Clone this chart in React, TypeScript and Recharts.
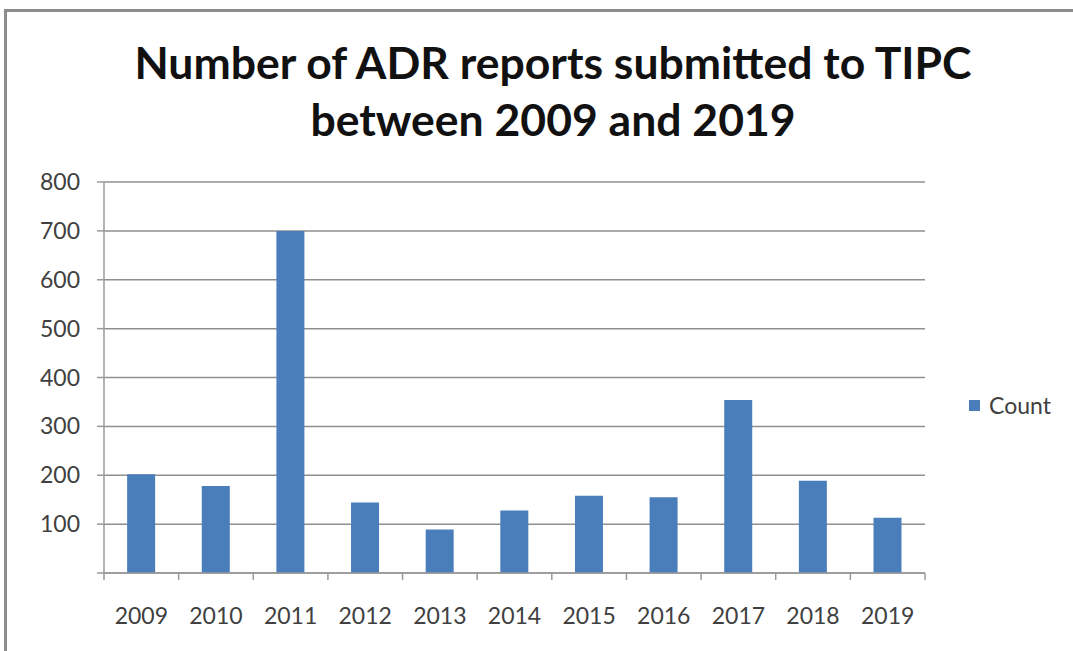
import React from "react";
import { BarChart, Bar, XAxis, YAxis, CartesianGrid } from "recharts";

const years = ["2009", "2010", "2011", "2012", "2013", "2014", "2015", "2016", "2017", "2018", "2019"];
const counts = [202, 178, 700, 144, 89, 128, 158, 155, 354, 189, 113];
const yTicks = [0, 100, 200, 300, 400, 500, 600, 700, 800];
const seriesName = "Count";
const titleLines = ["Number of ADR reports submitted to TIPC", "between 2009 and 2019"];

const data = years.map((y, i) => ({ year: y, count: counts[i] }));

const W = 1073;
const H = 651;
const M = { top: 182, right: 148, left: 0, bottom: 0 };
const YW = 104;
const plotW = W - M.left - M.right - YW;
const band = plotW / years.length;
const FONT = "Lato, 'Open Sans', sans-serif";
const BAR = "#4a7ebb";

const XTick = (props: any) => {
  const { x, y, payload, index } = props;
  const left = x - band / 2;
  return (
    <g>
      <line x1={left} x2={left} y1={y - 8} y2={y - 1} stroke="#9a9a9a" strokeWidth={1.5} />
      {index === years.length - 1 && (
        <line x1={left + band} x2={left + band} y1={y - 8} y2={y - 1} stroke="#9a9a9a" strokeWidth={1.5} />
      )}
      <text x={x} y={y + 43} textAnchor="middle" fill="#404040" fontSize={23} fontFamily={FONT}>
        {payload.value}
      </text>
    </g>
  );
};

const YTick = (props: any) => {
  const { x, y, payload } = props;
  return (
    <g>
      <line x1={x + 1} x2={x + 8} y1={y} y2={y} stroke="#9a9a9a" strokeWidth={1.5} />
      {payload.value !== 0 && (
        <text x={x - 16} y={y + 8} textAnchor="end" fill="#404040" fontSize={23} fontFamily={FONT}>
          {payload.value}
        </text>
      )}
    </g>
  );
};

export default function App() {
  return (
    <div style={{ position: "absolute", left: 0, top: 0, width: W, height: H, background: "#fff", overflow: "hidden" }}>
      <div
        style={{
          position: "absolute",
          left: 4,
          top: 9,
          width: W,
          height: H,
          borderLeft: "3px solid #8c8c8c",
          borderTop: "3px solid #8c8c8c",
          boxSizing: "border-box",
        }}
      />
      <div
        style={{
          position: "absolute",
          left: 0,
          top: 33,
          width: 1106,
          textAlign: "center",
          fontFamily: FONT,
          fontWeight: 700,
          fontSize: 44.5,
          lineHeight: "57px",
          color: "#111",
        }}
      >
        <div>{titleLines[0]}</div>
        <div>{titleLines[1]}</div>
      </div>
      <div style={{ position: "absolute", left: 0, top: 0 }}>
        <BarChart width={W} height={H} data={data} margin={M} barCategoryGap="31%">
          <CartesianGrid vertical={false} stroke="#8f8f8f" strokeWidth={1.5} />
          <XAxis
            dataKey="year"
            height={78}
            axisLine={{ stroke: "#9a9a9a", strokeWidth: 1.5 }}
            tickLine={false}
            tick={<XTick />}
            interval={0}
          />
          <YAxis
            width={YW}
            domain={[0, 800]}
            ticks={yTicks}
            axisLine={{ stroke: "#9a9a9a", strokeWidth: 1.5 }}
            tickLine={false}
            tick={<YTick />}
            interval={0}
          />
          <Bar dataKey="count" name={seriesName} fill={BAR} isAnimationActive={false} />
        </BarChart>
      </div>
      <div
        style={{
          position: "absolute",
          left: 969,
          top: 391,
          display: "flex",
          alignItems: "center",
          fontFamily: FONT,
          fontSize: 23,
          color: "#404040",
        }}
      >
        <span style={{ display: "inline-block", width: 11, height: 11, background: BAR, marginRight: 9 }} />
        <span>{seriesName}</span>
      </div>
    </div>
  );
}
